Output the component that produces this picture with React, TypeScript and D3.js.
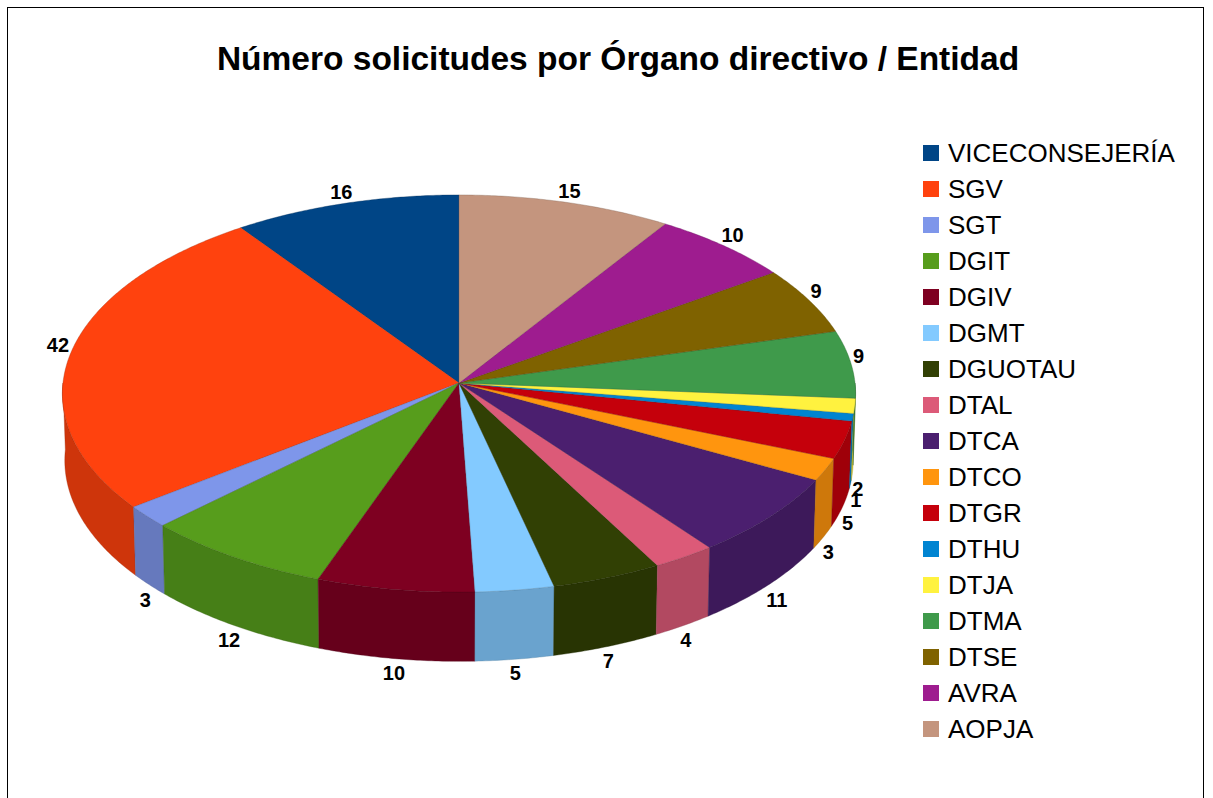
import React from "react";
import * as d3 from "d3";

// data
const categories = [
  "VICECONSEJERÍA", "SGV", "SGT", "DGIT", "DGIV", "DGMT", "DGUOTAU", "DTAL", "DTCA",
  "DTCO", "DTGR", "DTHU", "DTJA", "DTMA", "DTSE", "AVRA", "AOPJA",
];
const values = [16, 42, 3, 12, 10, 5, 7, 4, 11, 3, 5, 1, 2, 9, 9, 10, 15];
const colors = [
  "#004586", "#ff420e", "#7e96ea", "#579d1c", "#7e0021", "#83caff", "#314004", "#dc5a78",
  "#4b1f6f", "#ff950e", "#c5000b", "#0084d1", "#fff23f", "#3f9a4b", "#7f6200", "#9e1c8f",
  "#c4957e",
];
const title = "Número solicitudes por Órgano directivo / Entidad";

const W = 1213;
const H = 798;
const cx = 459;
const cy = 383;
// simple perspective camera looking down on a unit-radius disc
const tilt = Math.PI / 6;
const camDist = 16.34;
const focal = 6471;
const thick = 0.196;

function project(X: number, Y: number, Z: number): [number, number] {
  const yc = Y * Math.cos(tilt) - Z * Math.sin(tilt);
  const zc = Y * Math.sin(tilt) + Z * Math.cos(tilt);
  const s = focal / (camDist - zc);
  return [cx + X * s, cy - yc * s];
}

// angle a goes counterclockwise on screen, starting at 12 o'clock
const rim = (a: number, Y: number, k = 1) => project(-Math.sin(a) * k, Y, -Math.cos(a) * k);

function arcPts(a0: number, a1: number, Y: number) {
  const n = Math.max(2, Math.ceil(Math.abs(a1 - a0) / (Math.PI / 360)));
  return d3.range(n + 1).map((i) => rim(a0 + ((a1 - a0) * i) / n, Y));
}

const line = d3.line();

export default function App() {
  const arcs = d3.pie<number>().sort(null).value((d) => d)(values);
  const shade = (c: string) => d3.rgb(c).darker(0.6).formatHex();

  const sides = arcs.map((d, i) => {
    const a = Math.max(d.startAngle, Math.PI / 2);
    const b = Math.min(d.endAngle, (3 * Math.PI) / 2);
    if (b <= a) return null;
    const pts = [...arcPts(a, b, 0), ...arcPts(b, a, -thick)];
    return (
      <path key={"s" + i} d={line(pts) + "Z"} fill={shade(colors[i])}
        stroke={d3.rgb(colors[i]).darker(1.2).formatHex()} strokeWidth={0.6} strokeOpacity={0.6} />
    );
  });

  const tops = arcs.map((d, i) => {
    const pts = [project(0, 0, 0), ...arcPts(d.startAngle, d.endAngle, 0)];
    return (
      <path key={"t" + i} d={line(pts) + "Z"} fill={colors[i]}
        stroke={d3.rgb(colors[i]).darker(1.2).formatHex()} strokeWidth={0.6} strokeOpacity={0.6} />
    );
  });

  const labels = arcs.map((d, i) => {
    const m = (d.startAngle + d.endAngle) / 2;
    const ux = -Math.sin(m);
    const uz = -Math.cos(m);
    const front = uz > 0;
    const [px, py] = rim(m, front ? -thick : 0);
    const hw = String(values[i]).length * 5.5;
    const x = px + ux * (hw + (front ? 0 : 2));
    let y = py + uz * (front ? 14 : 11);
    y += front ? 16 * (1 - Math.abs(uz)) : -8 * (1 - Math.abs(uz));
    return (
      <text key={"l" + i} x={x} y={y} textAnchor="middle" dominantBaseline="central"
        fontFamily="Liberation Sans, Arial, sans-serif" fontWeight="bold" fontSize={20} fill="#000">
        {values[i]}
      </text>
    );
  });

  const rowY = d3.scaleLinear().domain([0, categories.length - 1]).range([145, 721]);

  return (
    <svg width={W} height={H} style={{ position: "absolute", left: 0, top: 0, display: "block" }}>
      <rect x={0} y={0} width={W} height={H} fill="#fff" />
      <rect x={7.5} y={7.5} width={1196} height={H + 10} fill="none" stroke="#000" strokeWidth={1} />
      <text x={618} y={70} textAnchor="middle" fontFamily="Liberation Sans, Arial, sans-serif"
        fontWeight="bold" fontSize={33.5} fill="#000">
        {title}
      </text>
      <g>{sides}</g>
      <g>{tops}</g>
      <g>{labels}</g>
      <g>
        {categories.map((c, i) => (
          <g key={c}>
            <rect x={923} y={rowY(i)} width={16} height={16} fill={colors[i]} />
            <text x={948} y={rowY(i) + 16.5} fontFamily="Liberation Sans, Arial, sans-serif"
              fontSize={26} fill="#000">
              {c}
            </text>
          </g>
        ))}
      </g>
    </svg>
  );
}
